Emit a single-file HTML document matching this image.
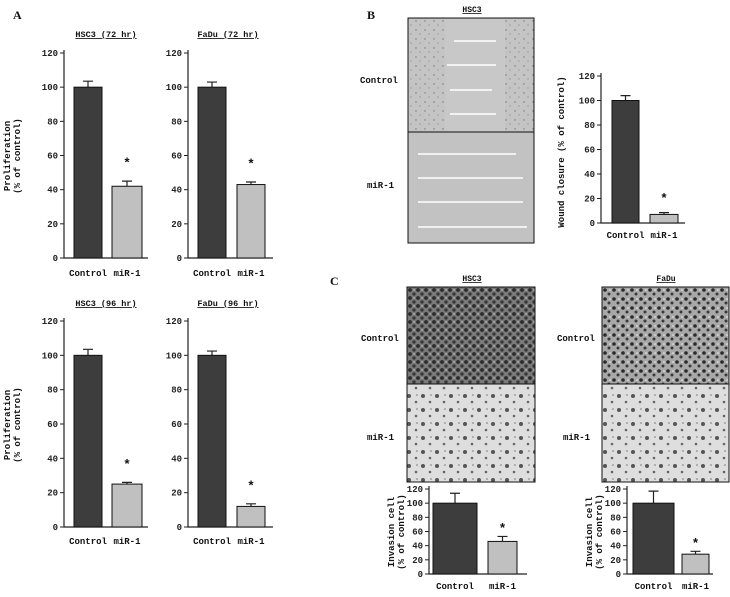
<!DOCTYPE html>
<html><head><meta charset="utf-8"><style>
body{margin:0;background:#fff}
svg{display:block;font-family:"Liberation Mono",monospace}
</style></head><body>
<svg id="fig" width="730" height="597" viewBox="0 0 730 597" xmlns="http://www.w3.org/2000/svg">
<defs>
<pattern id="dotsLight" width="9" height="9" patternUnits="userSpaceOnUse"><rect width="9" height="9" fill="#c4c4c4"/><circle cx="2" cy="3" r="0.7" fill="#777"/><circle cx="6" cy="7" r="0.6" fill="#888"/></pattern>
<pattern id="dotsDark" width="8" height="8" patternUnits="userSpaceOnUse"><rect width="8" height="8" fill="#7a7a7a"/><circle cx="2" cy="2" r="1.9" fill="#2a2a2a"/><circle cx="6" cy="6" r="1.7" fill="#3a3a3a"/><circle cx="6" cy="2" r="0.8" fill="#bbb"/></pattern>
<pattern id="dotsDark2" width="9" height="9" patternUnits="userSpaceOnUse"><rect width="9" height="9" fill="#a8a8a8"/><circle cx="2" cy="2" r="1.8" fill="#2a2a2a"/><circle cx="6" cy="6" r="1.5" fill="#3a3a3a"/><circle cx="7" cy="2" r="0.8" fill="#f0f0f0"/></pattern>
<pattern id="dotsSparse" width="14" height="14" patternUnits="userSpaceOnUse"><rect width="14" height="14" fill="#dedede"/><circle cx="3" cy="4" r="2" fill="#555"/><circle cx="10" cy="10" r="1.3" fill="#666"/><circle cx="11" cy="3" r="0.8" fill="#777"/></pattern>
</defs>
<g id="panels"></g>
</svg>
<script>
// ---- data ----
var categories = ["Control", "miR-1"];
var ticksProlif = [0, 20, 40, 60, 80, 100, 120];
var ticksInv = [0, 20, 40, 60, 80, 100, 120];
var hsc3_72 = [100, 42];
var hsc3_72_err = [3.5, 3];
var fadu_72 = [100, 43];
var fadu_72_err = [3, 1.5];
var hsc3_96 = [100, 25];
var hsc3_96_err = [3.5, 1];
var fadu_96 = [100, 12];
var fadu_96_err = [2.5, 1.5];
var wound = [100, 7];
var wound_err = [4, 1.5];
var inv_hsc3 = [100, 46];
var inv_hsc3_err = [14, 7];
var inv_fadu = [100, 28];
var inv_fadu_err = [17, 4];

var NS = "http://www.w3.org/2000/svg";
var root = document.getElementById("panels");
function el(tag, attrs, parent, text){
  var e = document.createElementNS(NS, tag);
  for (var k in attrs) e.setAttribute(k, attrs[k]);
  if (text !== undefined) e.textContent = text;
  (parent || root).appendChild(e);
  return e;
}

function chart(name, cfg, values, errs, ticks){
  var g = el("g", {});
  
  
  var y = function(v){ return cfg.y0 - (v / 120) * (cfg.y0 - cfg.y120); };
  var ax = el("path", {d:"M"+cfg.ax+" "+(cfg.y120-3)+"V"+cfg.y0+"H"+cfg.xend, stroke:"#222", "stroke-width":1.2, fill:"none"}, g);
  
  
  ticks.forEach(function(t){
    el("line", {x1:cfg.ax-4, x2:cfg.ax, y1:y(t), y2:y(t), stroke:"#222"}, g);
    var tl = el("text", {x:cfg.ax-6, y:y(t)+3, "font-size":cfg.fs, "text-anchor":"end", "font-weight":"bold", fill:"#222"}, g, String(t));
    
    
  });
  var fills = ["#3d3d3d", "#c0c0c0"];
  values.forEach(function(v, i){
    var x1 = cfg.bars[i][0], x2 = cfg.bars[i][1], cx = (x1 + x2) / 2;
    var top = y(v + errs[i]);
    var eb = el("path", {d:"M"+cx+" "+y(v)+"V"+top+"M"+(cx-5)+" "+top+"H"+(cx+5), stroke:"#222", "stroke-width":1.2, fill:"none"}, g);
    
    
    var b = el("rect", {x:x1, y:y(v), width:x2-x1, height:cfg.y0 - y(v), fill:fills[i], stroke:"#111", "stroke-width":1}, g);
    
    
    var lb = el("text", {x:cx, y:cfg.labY, "font-size":cfg.fs, "text-anchor":"middle", "font-weight":"bold", fill:"#111"}, g, categories[i]);
    
    
    if (i === 1){
      var st = el("text", {x:cx, y:top - cfg.starGap, "font-size":13, "text-anchor":"middle", "font-weight":"bold", fill:"#111"}, g, "*");
      
      
    }
  });
  if (cfg.title){
    var tt = el("text", {x:cfg.titleX, y:cfg.titleY, "font-size":8.5, "text-anchor":"middle", "text-decoration":"underline", "font-weight":"bold", fill:"#111"}, g, cfg.title);
    
    
  }
  if (cfg.ytitle){
    var yt = el("text", {transform:"translate("+cfg.ytX+","+cfg.ytY+") rotate(-90)", "font-size":cfg.ytFs||9, "text-anchor":"middle", "font-weight":"bold", fill:"#111"}, g);
    
    
    cfg.ytitle.forEach(function(line, k){
      el("tspan", {x:0, dy: k === 0 ? 0 : (cfg.ytFs||9)+1}, yt, line);
    });
  }
}

// Panel A
chart("chart-hsc3-72hr", {ax:64, xend:148, y0:258, y120:53, bars:[[74,102],[112,142]], labY:276, fs:9, starGap:14, title:"HSC3 (72 hr)", titleX:106, titleY:37, ytitle:["Proliferation","(% of control)"], ytX:10, ytY:156}, hsc3_72, hsc3_72_err, ticksProlif);
chart("chart-fadu-72hr", {ax:188, xend:273, y0:258, y120:53, bars:[[198,226],[237,265]], labY:276, fs:9, starGap:14, title:"FaDu (72 hr)", titleX:228, titleY:37}, fadu_72, fadu_72_err, ticksProlif);
chart("chart-hsc3-96hr", {ax:64, xend:148, y0:527, y120:321, bars:[[74,102],[112,142]], labY:544, fs:9, starGap:14, title:"HSC3 (96 hr)", titleX:106, titleY:306, ytitle:["Proliferation","(% of control)"], ytX:10, ytY:425}, hsc3_96, hsc3_96_err, ticksProlif);
chart("chart-fadu-96hr", {ax:188, xend:273, y0:527, y120:321, bars:[[198,226],[237,265]], labY:544, fs:9, starGap:14, title:"FaDu (96 hr)", titleX:228, titleY:306}, fadu_96, fadu_96_err, ticksProlif);

// Panel B chart
chart("chart-wound-closure", {ax:601, xend:685, y0:223, y120:76, bars:[[612,639],[650,678]], labY:238, fs:9, starGap:10, ytitle:["Wound closure (% of control)"], ytX:564, ytY:152}, wound, wound_err, ticksProlif);

// Panel C charts
chart("chart-invasion-hsc3", {ax:429, xend:527, y0:574, y120:489, bars:[[433,477],[488,517]], labY:589, fs:9, starGap:4, ytitle:["Invasion cell","(% of control)"], ytX:394, ytY:532}, inv_hsc3, inv_hsc3_err, ticksInv);
chart("chart-invasion-fadu", {ax:627, xend:713, y0:574, y120:489, bars:[[633,674],[682,709]], labY:589, fs:9, starGap:4, ytitle:["Invasion cell","(% of control)"], ytX:592, ytY:532}, inv_fadu, inv_fadu_err, ticksInv);

// panel letters and photo labels
function txt(name, x, y, s, fs, anchor, extra){
  var a = {x:x, y:y, "font-size":fs, "text-anchor":anchor||"start", fill:"#111"};
  for (var k in (extra||{})) a[k] = extra[k];
  var t = el("text", a, root, s);
  
  
}
txt("panel-label-a", 13, 19, "A", 12, "start", {"font-family":"Liberation Serif", "font-weight":"bold"});
txt("panel-label-b", 367, 19, "B", 12, "start", {"font-family":"Liberation Serif", "font-weight":"bold"});
txt("panel-label-c", 330, 285, "C", 12, "start", {"font-family":"Liberation Serif", "font-weight":"bold"});

// Panel B wound images
function photo(name, x, y, w, h, fill){
  var r = el("rect", {x:x, y:y, width:w, height:h, fill:fill, stroke:"#111", "stroke-width":1});
  
  
}
photo("wound-image-control", 408, 18, 126, 114, "url(#dotsLight)");
var gapC = el("rect", {x:445, y:19, width:60, height:112, fill:"#c8c8c8"});


photo("wound-image-mir1", 408, 132, 126, 111, "#c2c2c2");
[[454,496,41],[447,496,65],[450,492,90],[450,496,114],[418,516,154],[418,523,178],[418,523,202],[418,527,227]].forEach(function(l){
  var ln = el("line", {x1:l[0], x2:l[1], y1:l[2], y2:l[2], stroke:"#fff", "stroke-width":1.6});
  
  
});
txt("wound-title-hsc3", 472, 12, "HSC3", 8, "middle", {"text-decoration":"underline", "font-weight":"bold"});
txt("row-label-control", 360, 83, "Control", 9, "start", {"font-weight":"bold"});
txt("row-label-mir1", 367, 188, "miR-1", 9, "start", {"font-weight":"bold"});

// Panel C invasion images
photo("invasion-hsc3-control", 407, 287, 128, 97, "url(#dotsDark)");
photo("invasion-hsc3-mir1", 407, 384, 128, 98, "url(#dotsSparse)");
photo("invasion-fadu-control", 602, 287, 127, 97, "url(#dotsDark2)");
photo("invasion-fadu-mir1", 602, 384, 127, 98, "url(#dotsSparse)");
txt("invasion-title-hsc3", 472, 281, "HSC3", 8, "middle", {"text-decoration":"underline", "font-weight":"bold"});
txt("invasion-title-fadu", 666, 281, "FaDu", 8, "middle", {"text-decoration":"underline", "font-weight":"bold"});
txt("row-label-control-hsc3", 361, 341, "Control", 9, "start", {"font-weight":"bold"});
txt("row-label-mir1-hsc3", 367, 440, "miR-1", 9, "start", {"font-weight":"bold"});
txt("row-label-control-fadu", 557, 341, "Control", 9, "start", {"font-weight":"bold"});
txt("row-label-mir1-fadu", 563, 440, "miR-1", 9, "start", {"font-weight":"bold"});
</script>
</body></html>
